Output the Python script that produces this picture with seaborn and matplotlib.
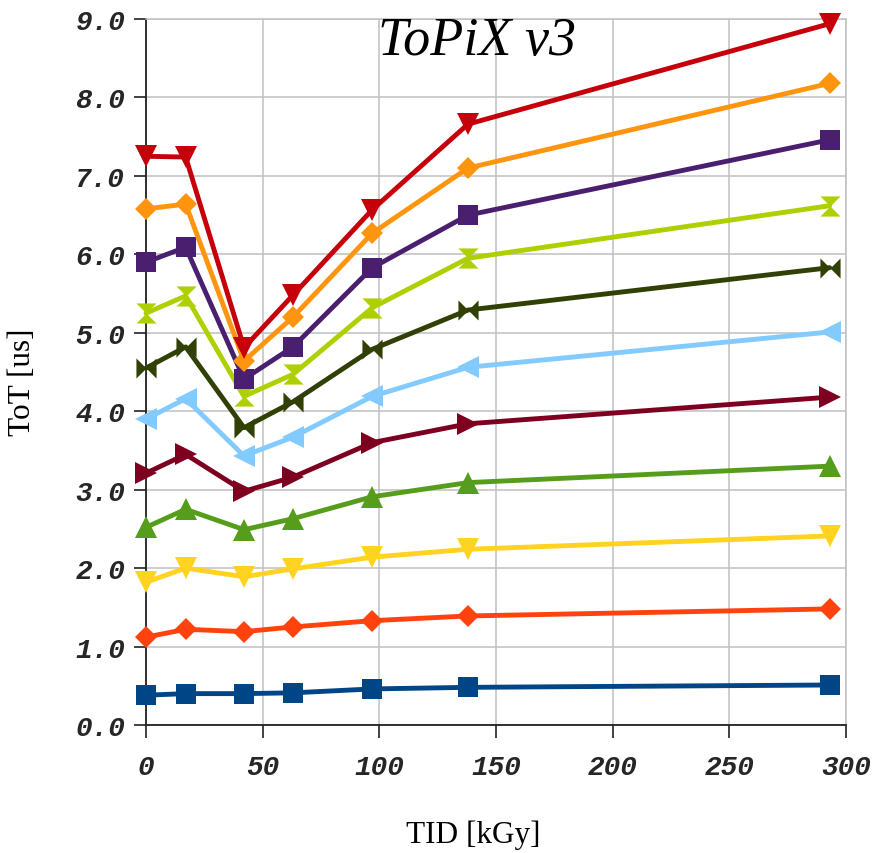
import numpy as np
import pandas as pd
import matplotlib
matplotlib.use("Agg")
import matplotlib.pyplot as plt
import seaborn as sns

tid = [0, 17, 42, 63, 97, 138, 293]

s01 = [0.38, 0.40, 0.40, 0.41, 0.46, 0.48, 0.51]
s02 = [1.12, 1.22, 1.19, 1.25, 1.33, 1.39, 1.48]
s03 = [1.82, 2.00, 1.89, 1.99, 2.14, 2.24, 2.41]
s04 = [2.52, 2.75, 2.49, 2.63, 2.91, 3.09, 3.30]
s05 = [3.21, 3.45, 2.98, 3.16, 3.60, 3.84, 4.18]
s06 = [3.90, 4.16, 3.43, 3.67, 4.19, 4.56, 5.01]
s07 = [4.55, 4.82, 3.79, 4.12, 4.79, 5.29, 5.83]
s08 = [5.25, 5.47, 4.19, 4.47, 5.32, 5.95, 6.62]
s09 = [5.90, 6.09, 4.41, 4.82, 5.83, 6.50, 7.46]
s10 = [6.58, 6.64, 4.64, 5.20, 6.27, 7.10, 8.18]
s11 = [7.25, 7.24, 4.81, 5.48, 6.57, 7.66, 8.94]

series = [s01, s02, s03, s04, s05, s06, s07, s08, s09, s10, s11]
colors = ["#004586", "#FF420E", "#FFD320", "#579D1C", "#7E0021", "#83CAFF",
          "#314004", "#AECF00", "#4B1F6F", "#FF950E", "#C5000B"]
vbow = [(-1, 1), (1, 1), (-1, -1), (1, -1), (-1, 1)]
hbow = [(-1, 1), (-1, -1), (1, 1), (1, -1), (-1, 1)]
markers = ["s", "D", "v", "^", ">", "<", hbow, vbow, "s", "D", "v"]
msizes = [14.5, 11.5, 15.5, 15.5, 15.5, 15.5, 14.5, 14.5, 14.5, 11.5, 15.5]

x_ticks = [0, 50, 100, 150, 200, 250, 300]
y_ticks = [0, 1, 2, 3, 4, 5, 6, 7, 8, 9]

sns.set_theme(style="white")
fig = plt.figure(figsize=(8.78, 8.54), dpi=100)
ax = fig.add_axes([146/878, 128/854, 700/878, 706/854])

for i, (vals, c, m, ms) in enumerate(zip(series, colors, markers, msizes)):
    df = pd.DataFrame({"TID": tid, "ToT": vals})
    sns.lineplot(data=df, x="TID", y="ToT", ax=ax, color=c, linewidth=3.5,
                 marker=m, markersize=ms, markeredgewidth=0, clip_on=False,
                 legend=False, zorder=3 + i)

ax.set_xlim(0, 300)
ax.set_ylim(0, 9)
ax.set_xticks(x_ticks)
ax.set_yticks(y_ticks)
ax.set_xticklabels([str(v) for v in x_ticks])
ax.set_yticklabels([f"{v:.1f}" for v in y_ticks])
for lab in ax.get_xticklabels() + ax.get_yticklabels():
    lab.set_fontfamily("Liberation Mono")
    lab.set_fontweight("bold")
    lab.set_fontstyle("italic")
    lab.set_fontsize(20)
ax.tick_params(axis="both", direction="out", length=9, width=1.3, color="#333333",
               left=True, bottom=True, top=False, right=False)
ax.tick_params(axis="x", pad=12)
ax.tick_params(axis="y", pad=6)
ax.grid(True, color="#c0c0c0", linewidth=1.1)
ax.set_axisbelow(True)
for side in ["top", "right"]:
    ax.spines[side].set_color("#c0c0c0")
    ax.spines[side].set_linewidth(1.1)
for side in ["left", "bottom"]:
    ax.spines[side].set_color("#222222")
    ax.spines[side].set_linewidth(1.3)

ax.set_xlabel("TID [kGy]", fontfamily="Liberation Serif", fontsize=22.5, color="black")
ax.set_ylabel("ToT [us]", fontfamily="Liberation Serif", fontsize=22.5, color="black")
ax.xaxis.set_label_coords(0.467, -0.134)
ax.yaxis.set_label_coords(-0.156, 0.487)
ax.text(0.473, 1.005, "ToPiX v3", transform=ax.transAxes, ha="center", va="top",
        fontfamily="Liberation Serif", fontstyle="italic", fontsize=39, color="black", zorder=20)

fig.savefig("out.png", dpi=100)
